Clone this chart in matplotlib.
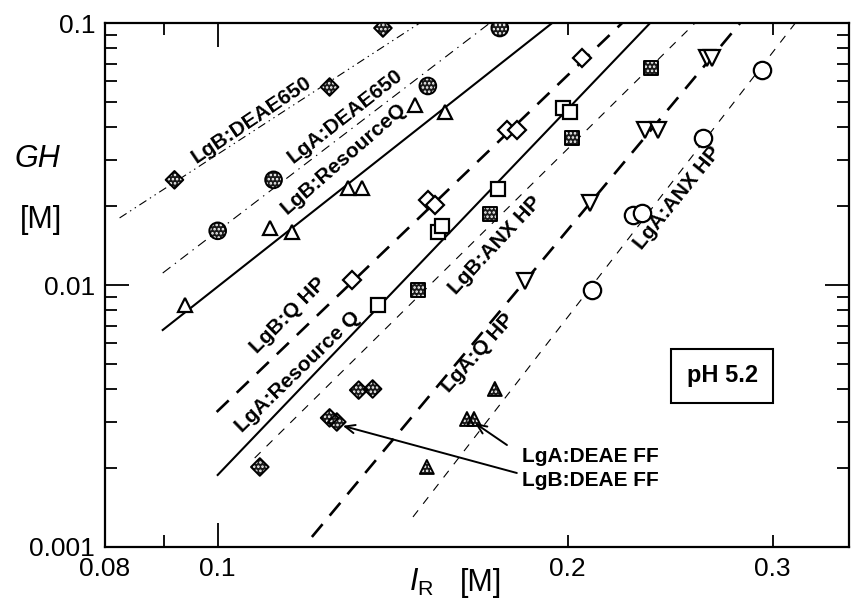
import matplotlib
matplotlib.use('Agg')
import matplotlib.pyplot as plt
from matplotlib import ticker

plt.rcParams['font.family'] = ['Liberation Sans', 'DejaVu Sans']
plt.rcParams['mathtext.fontset'] = 'custom'
plt.rcParams['mathtext.rm'] = 'Liberation Sans'
plt.rcParams['mathtext.it'] = 'Liberation Sans:italic'
plt.rcParams['lines.scale_dashes'] = False
plt.rcParams['hatch.linewidth'] = 1.2

# ---- data (I_R [M], GH [M]) ----
lgb_deae650_x = [0.0918, 0.1248, 0.1387]
lgb_deae650_y = [0.0252, 0.0570, 0.0957]
lga_deae650_x = [0.1000, 0.1117, 0.1516, 0.1748]
lga_deae650_y = [0.0161, 0.0252, 0.0575, 0.0957]
lgb_resq_x = [0.0937, 0.1109, 0.1158, 0.1294, 0.1330, 0.1477, 0.1568]
lgb_resq_y = [0.00839, 0.0165, 0.0159, 0.0235, 0.0235, 0.0486, 0.0457]
lgb_qhp_x = [0.1304, 0.1516, 0.1537, 0.1773, 0.1808, 0.2057]
lgb_qhp_y = [0.01045, 0.0211, 0.0202, 0.0391, 0.0391, 0.0735]
lga_resq_x = [0.1373, 0.1547, 0.1559, 0.1742, 0.1981, 0.2009]
lga_resq_y = [0.00839, 0.0159, 0.0168, 0.0233, 0.0474, 0.0457]
lgb_anx_x = [0.1486, 0.1714, 0.2017, 0.2358]
lgb_anx_y = [0.00957, 0.01866, 0.0364, 0.0673]
lga_qhp_x = [0.1837, 0.2090, 0.2331, 0.2391, 0.2635, 0.2661]
lga_qhp_y = [0.01036, 0.02056, 0.0391, 0.0391, 0.0735, 0.0735]
lga_anx_x = [0.2098, 0.2276, 0.2317, 0.2615, 0.2939]
lga_anx_y = [0.00957, 0.0185, 0.0188, 0.0364, 0.0662]
lgb_ff_x = [0.1087, 0.1248, 0.1266, 0.1322, 0.1359]
lgb_ff_y = [0.00202, 0.00311, 0.00300, 0.00397, 0.00401]
lga_ff_x = [0.1513, 0.1638, 0.1661, 0.1731]
lga_ff_y = [0.00202, 0.00308, 0.00308, 0.00401]

# fitted lines (end points)
fit_x = {
    'LgB:DEAE650': [0.08235, 0.1492],
    'LgA:DEAE650': [0.08969, 0.1714],
    'LgB:ResourceQ': [0.08969, 0.1939],
    'LgB:Q HP': [0.0998, 0.2227],
    'LgA:Resource Q': [0.1000, 0.2354],
    'LgB:ANX HP': [0.1076, 0.2573],
    'LgA:Q HP': [0.1205, 0.2813],
    'LgA:ANX HP': [0.1472, 0.3138],
}
fit_y = {
    'LgB:DEAE650': [0.01803, 0.1],
    'LgA:DEAE650': [0.01111, 0.1],
    'LgB:ResourceQ': [0.006733, 0.1],
    'LgB:Q HP': [0.003276, 0.1],
    'LgA:Resource Q': [0.001883, 0.1],
    'LgB:ANX HP': [0.002186, 0.1],
    'LgA:Q HP': [0.001092, 0.1],
    'LgA:ANX HP': [0.001302, 0.1],
}
line_styles = {
    'LgB:DEAE650': ((0, (6, 3, 1, 3, 1, 3)), 0.8),
    'LgA:DEAE650': ((0, (7, 4, 1, 4)), 0.8),
    'LgB:ResourceQ': ('-', 1.5),
    'LgB:Q HP': ((0, (12, 8)), 1.9),
    'LgA:Resource Q': ('-', 1.5),
    'LgB:ANX HP': ((0, (6, 6)), 0.8),
    'LgA:Q HP': ((0, (12, 8)), 1.9),
    'LgA:ANX HP': ((0, (6, 6)), 0.8),
}
# label positions and rotations
label_pos = {
    'LgB:DEAE650': (0.1070, 0.0426, 34),
    'LgA:DEAE650': (0.1286, 0.0442, 38),
    'LgB:ResourceQ': (0.1284, 0.0305, 41),
    'LgB:Q HP': (0.1149, 0.00762, 45),
    'LgA:Resource Q': (0.1172, 0.00466, 44),
    'LgB:ANX HP': (0.1731, 0.01422, 47),
    'LgA:Q HP': (0.1674, 0.00550, 48),
    'LgA:ANX HP': (0.2483, 0.0215, 51),
}

fig = plt.figure(figsize=(8.59, 6.06), dpi=100)
ax = fig.add_axes([0.1222, 0.0974, 0.8662, 0.8646])
ax.set_xscale('log')
ax.set_yscale('log')
ax.set_xlim(0.08, 0.349)
ax.set_ylim(0.001, 0.1)

for name in fit_x:
    ls, lw = line_styles[name]
    ax.plot(fit_x[name], fit_y[name], color='k', ls=ls, lw=lw, zorder=2)
    lx, ly, rot = label_pos[name]
    ax.text(lx, ly, name, rotation=rot, rotation_mode='anchor', ha='center',
            va='center', fontsize=15, fontweight='bold', zorder=5)


def hatched(x, y, marker, size):
    ax.scatter(x, y, s=size ** 2, marker=marker, facecolor='#1a1a1a',
               edgecolor='white', hatch='....', linewidths=0, zorder=3)
    ax.scatter(x, y, s=size ** 2, marker=marker, facecolor='none',
               edgecolor='k', linewidths=1.4, zorder=4)


def hollow(x, y, marker, size):
    ax.plot(x, y, ls='none', marker=marker, ms=size, mfc='white',
            mec='k', mew=1.6, zorder=4)


hatched(lgb_deae650_x, lgb_deae650_y, 'D', 9)
hatched(lga_deae650_x, lga_deae650_y, 'o', 12)
hollow(lgb_resq_x, lgb_resq_y, '^', 10.5)
hollow(lgb_qhp_x, lgb_qhp_y, 'D', 9)
hollow(lga_resq_x, lga_resq_y, 's', 9.5)
hatched(lgb_anx_x, lgb_anx_y, 's', 10)
hollow(lga_qhp_x, lga_qhp_y, 'v', 12)
hollow(lga_anx_x, lga_anx_y, 'o', 12.5)
hatched(lgb_ff_x, lgb_ff_y, 'D', 9)
hatched(lga_ff_x, lga_ff_y, '^', 10)

# DEAE FF labels with arrows
arrow = dict(arrowstyle='->,head_length=0.7,head_width=0.3', color='k', lw=1.4,
             shrinkA=0, shrinkB=0)
ax.annotate('', xy=(0.1281, 0.00290), xytext=(0.1808, 0.001916), arrowprops=arrow)
ax.annotate('', xy=(0.1664, 0.00297), xytext=(0.1773, 0.00245), arrowprops=arrow)
ax.text(0.1826, 0.00221, 'LgA:DEAE FF', fontsize=15, fontweight='bold',
        ha='left', va='center')
ax.text(0.1826, 0.00180, 'LgB:DEAE FF', fontsize=15, fontweight='bold',
        ha='left', va='center')

ax.text(0.2715, 0.0045, 'pH 5.2', fontsize=17, fontweight='bold', ha='center',
        va='center', bbox=dict(boxstyle='square,pad=0.65', fc='white', ec='k', lw=1.5))

# ticks
ax.xaxis.set_major_locator(ticker.FixedLocator([0.1]))
ax.xaxis.set_major_formatter(ticker.FixedFormatter(['0.1']))
ax.xaxis.set_minor_locator(ticker.FixedLocator([0.08, 0.09, 0.2, 0.3]))
ax.xaxis.set_minor_formatter(ticker.FixedFormatter(['0.08', '', '0.2', '0.3']))
ax.yaxis.set_major_locator(ticker.FixedLocator([0.001, 0.01, 0.1]))
ax.yaxis.set_major_formatter(ticker.FixedFormatter(['0.001', '0.01', '0.1']))
ax.yaxis.set_minor_locator(ticker.LogLocator(base=10, subs=range(2, 10)))
ax.yaxis.set_minor_formatter(ticker.NullFormatter())
ax.tick_params(which='both', direction='in', top=True, right=True,
               labelsize=19, width=1.3, colors='k')
ax.tick_params(which='major', length=17, pad=7)
ax.tick_params(which='minor', length=8.5, pad=7)
for sp in ax.spines.values():
    sp.set_linewidth(1.6)

fig.text(0.043, 0.738, 'GH', fontsize=22, style='italic', ha='center', va='center')
fig.text(0.048, 0.637, '[M]', fontsize=22, ha='center', va='center')
fig.text(0.491, 0.025, r'$I_{\mathrm{R}}$', fontsize=22, ha='center', va='baseline')
fig.text(0.560, 0.025, '[M]', fontsize=22, ha='center', va='baseline')

fig.savefig('out.png', dpi=100)
